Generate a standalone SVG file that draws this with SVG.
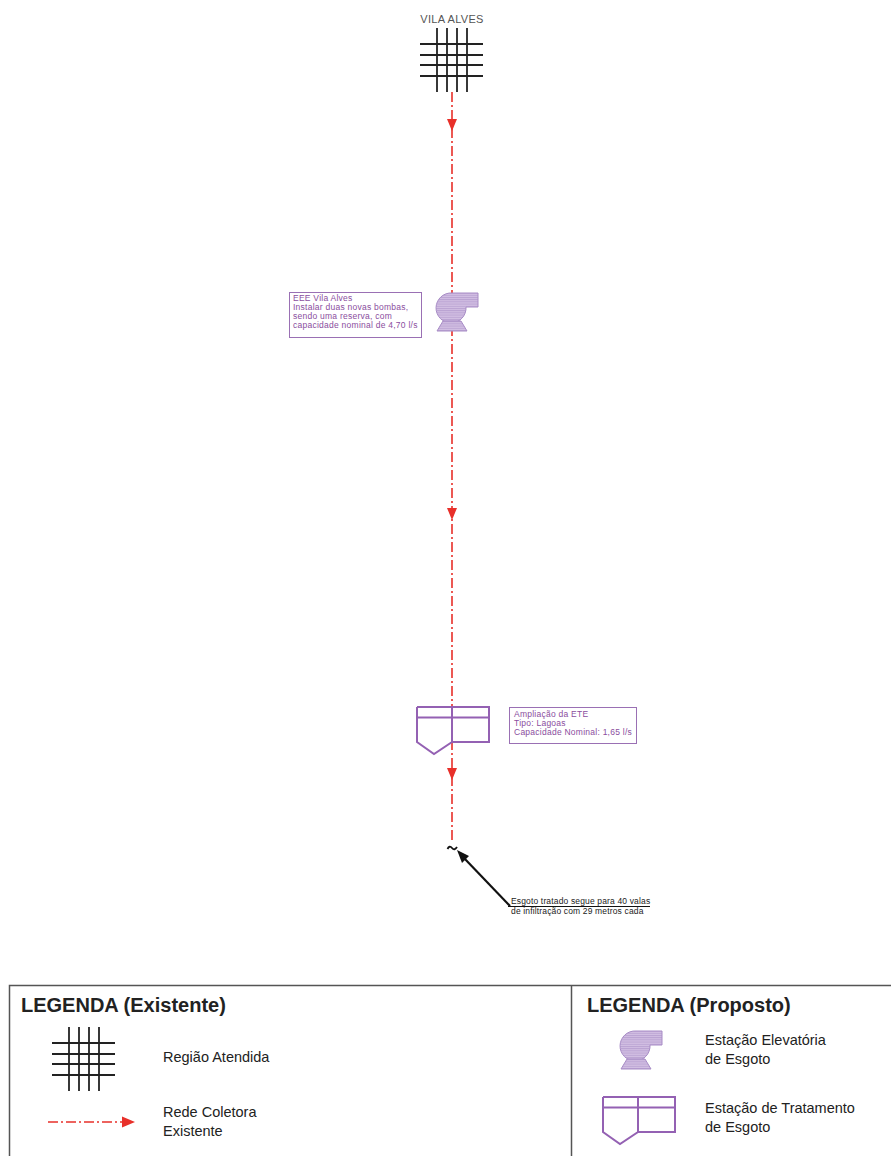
<svg xmlns="http://www.w3.org/2000/svg" width="891" height="1156" viewBox="0 0 891 1156">
<style>
.red{stroke:#e8302a;stroke-width:1.6;fill:none;stroke-dasharray:10 3 2 3}
.ah{fill:#e8302a}
.ete{fill:none;stroke:#9461b3;stroke-width:2}
.pump{fill:url(#hatch);stroke:#a88cc6;stroke-width:1}
.lbl{font-family:"Liberation Sans",Arial,sans-serif;font-size:8.5px;fill:#8a4d9e;letter-spacing:0.25px}
.lbox{fill:#fff;stroke:#9a70b4;stroke-width:1}
.note{font-family:"Liberation Sans",Arial,sans-serif;font-size:8.5px;fill:#222;letter-spacing:0.15px}
.lg{font-family:"Liberation Sans",Arial,sans-serif;font-size:14.5px;fill:#222}
.lgt{font-family:"Liberation Sans",Arial,sans-serif;font-size:20px;font-weight:bold;fill:#222}
</style>
<defs>
<pattern id="hatch" width="4" height="2.2" patternUnits="userSpaceOnUse">
<rect width="4" height="2.2" fill="#d2bfe3"/>
<line x1="0" y1="0.5" x2="4" y2="0.5" stroke="#b59ccf" stroke-width="0.8"/>
</pattern>
<g id="gridSym" stroke="#222" stroke-width="1.8">
<line x1="0" y1="16" x2="63" y2="16"/>
<line x1="0" y1="27" x2="63" y2="27"/>
<line x1="0" y1="37" x2="63" y2="37"/>
<line x1="0" y1="48" x2="63" y2="48"/>
<line x1="17" y1="0" x2="17" y2="64"/>
<line x1="27" y1="0" x2="27" y2="64"/>
<line x1="37" y1="0" x2="37" y2="64"/>
<line x1="47" y1="0" x2="47" y2="64"/>
</g>
<g id="pumpSym">
<path class="pump" d="M0,-15 L26,-15 L26,-1 L14,-1 A15,15 0 1 1 0,-15 Z"/>
<path class="pump" d="M-9,13 L9,13 L15,23 L-15,23 Z"/>
</g>
<g id="eteSym">
<path class="ete" d="M0,0 H72 V35 H35 M0,0 V35 L17,47 L35,35 V0 M0,10.5 H72"/>
</g>
</defs>

<g id="connectors">
<line class="red" x1="452" y1="92" x2="452" y2="842"/>
<polygon class="ah" points="447,119 457,119 452,131"/>
<polygon class="ah" points="447,508 457,508 452,520"/>
<polygon class="ah" points="447,768 457,768 452,780"/>
<line x1="510" y1="906" x2="464" y2="858" stroke="#111" stroke-width="2.2"/>
<polygon points="457,850 469,856 462,863" fill="#111"/>
<line x1="508" y1="906.5" x2="650" y2="906.5" stroke="#111" stroke-width="1.2"/>
</g>

<g id="vila-alves">
<text x="452" y="23" text-anchor="middle" font-family="'Liberation Sans',Arial,sans-serif" font-size="11" fill="#555" letter-spacing="0.3">VILA ALVES</text>
<use href="#gridSym" x="420" y="28"/>
</g>

<g id="eee">
<use href="#pumpSym" x="452" y="308"/>
<rect class="lbox" x="289.5" y="292.5" width="132" height="45"/>
<text class="lbl" x="293" y="301">EEE Vila Alves</text>
<text class="lbl" x="293" y="310">Instalar duas novas bombas,</text>
<text class="lbl" x="293" y="319">sendo uma reserva, com</text>
<text class="lbl" x="293" y="328">capacidade nominal de 4,70 l/s</text>
</g>

<g id="ete">
<use href="#eteSym" x="417" y="707"/>
<rect class="lbox" x="509.5" y="707.5" width="127" height="36"/>
<text class="lbl" x="514" y="717">Ampliação da ETE</text>
<text class="lbl" x="514" y="726">Tipo: Lagoas</text>
<text class="lbl" x="514" y="735">Capacidade Nominal: 1,65 l/s</text>
</g>

<g id="saida">
<path d="M447.5,849 q2,-4 4.5,-1 q2.5,3 5,-1" fill="none" stroke="#111" stroke-width="1.8"/>
<text class="note" x="511" y="904">Esgoto tratado segue para 40 valas</text>
<text class="note" x="511" y="914">de infiltração com 29 metros cada</text>
</g>

<g id="legenda">
<path d="M9.5,1160 V985.5 H895 M571.5,985.5 V1160" fill="none" stroke="#555" stroke-width="1.5"/>
<text class="lgt" x="21" y="1012">LEGENDA (Existente)</text>
<use href="#gridSym" x="52" y="1027"/>
<text class="lg" x="163" y="1062">Região Atendida</text>
<line class="red" x1="48" y1="1122" x2="124" y2="1122" stroke-dasharray="9 3 2 3"/>
<polygon class="ah" points="122,1116.5 122,1127.5 135,1122"/>
<text class="lg" x="163" y="1117">Rede Coletora</text>
<text class="lg" x="163" y="1136">Existente</text>
<text class="lgt" x="587" y="1012">LEGENDA (Proposto)</text>
<use href="#pumpSym" x="636" y="1046"/>
<text class="lg" x="705" y="1045">Estação Elevatória</text>
<text class="lg" x="705" y="1064">de Esgoto</text>
<use href="#eteSym" x="603" y="1097"/>
<text class="lg" x="705" y="1113">Estação de Tratamento</text>
<text class="lg" x="705" y="1132">de Esgoto</text>
</g>
</svg>
